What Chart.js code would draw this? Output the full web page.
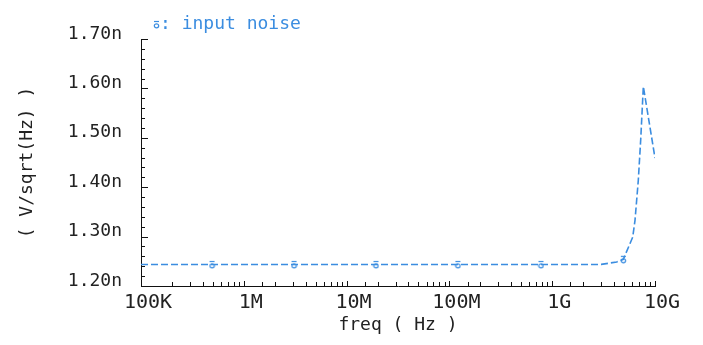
<!DOCTYPE html>
<html>
<head>
<meta charset="utf-8">
<script src="https://cdn.jsdelivr.net/npm/chart.js@4/dist/chart.umd.min.js"></script>
<style>
  html, body { margin: 0; padding: 0; background: #fff; }
  #wrap { width: 703px; height: 345px; }
</style>
</head>
<body>
<div id="wrap"><canvas id="noiseChart"></canvas></div>
<script>
// frequency sweep (Hz) and input-referred noise (nV/sqrt(Hz))
const freqs = [1e5, 1e6, 1e7, 1e8, 1e9, 2e9, 3e9, 4.24e9, 4.92e9, 6.07e9, 6.39e9, 6.88e9, 7.26e9, 7.7e9, 1e10];
const noise = [1.2434, 1.2434, 1.2434, 1.2434, 1.2434, 1.2435, 1.2437, 1.2487, 1.254, 1.299, 1.333, 1.414, 1.496, 1.604, 1.459];

// marker symbols placed along the trace
const markerFreqs = [4.91e5, 3.08e6, 1.93e7, 1.21e8, 7.78e8, 4.92e9];
const markerNoise = [1.2434, 1.2434, 1.2434, 1.2434, 1.2434, 1.254];

const xTickNames = { 5: '100K', 6: '1M', 7: '10M', 8: '100M', 9: '1G', 10: '10G' };
const yMin = 1.20, yMax = 1.70, yStep = 0.02;

const blue = '#3b8de0';
const font = 'DejaVu Sans Mono';

// small "a"-like marker glyph used by the simulator
function makeMarker() {
    const c = document.createElement('canvas');
    c.width = 7; c.height = 9;
    const g = c.getContext('2d');
    g.strokeStyle = blue;
    g.lineWidth = 1.2;
    g.beginPath();
    g.moveTo(1, 1.5); g.lineTo(6, 1.5);
    g.stroke();
    g.beginPath();
    g.ellipse(3.5, 5.8, 2.2, 2, 0, 0, Math.PI * 2);
    g.stroke();
    return c;
}
const markerImg = makeMarker();

const isDecade = v => Math.abs(Math.log10(v) - Math.round(Math.log10(v))) < 1e-6;
const isMajorY = v => Math.abs(v * 10 - Math.round(v * 10)) < 1e-6;

// ticks drawn inward from the axis lines
const innerTicks = {
    id: 'innerTicks',
    afterDraw(chart) {
        const { ctx, chartArea, scales } = chart;
        ctx.save();
        ctx.strokeStyle = '#111';
        ctx.lineWidth = 1;
        scales.x.ticks.forEach(t => {
            const px = Math.round(scales.x.getPixelForValue(t.value)) + 0.5;
            const len = isDecade(t.value) ? 5 : 4;
            ctx.beginPath();
            ctx.moveTo(px, chartArea.bottom);
            ctx.lineTo(px, chartArea.bottom - len);
            ctx.stroke();
        });
        scales.y.ticks.forEach(t => {
            const py = Math.round(scales.y.getPixelForValue(t.value)) + 0.5;
            const len = isMajorY(t.value) ? 7 : 4;
            ctx.beginPath();
            ctx.moveTo(chartArea.left, py);
            ctx.lineTo(chartArea.left + len, py);
            ctx.stroke();
        });
        ctx.restore();
    }
};

// legend line: marker + ": input noise"
const traceLegend = {
    id: 'traceLegend',
    afterDraw(chart) {
        const { ctx, chartArea } = chart;
        const x = chartArea.left + 12;
        const y = 24;
        ctx.save();
        ctx.drawImage(markerImg, x, y - 4);
        ctx.fillStyle = blue;
        ctx.font = '18px "' + font + '"';
        ctx.textBaseline = 'middle';
        ctx.fillText(': input noise', x + 7, y);
        ctx.restore();
    }
};

new Chart(document.getElementById('noiseChart'), {
    type: 'line',
    data: {
        datasets: [{
            label: 'input noise',
            data: freqs.map((f, i) => ({ x: f, y: noise[i] })),
            borderColor: blue,
            borderWidth: 1.6,
            borderDash: [7, 3],
            pointRadius: 0,
            tension: 0,
            fill: false
        }, {
            label: 'markers',
            data: markerFreqs.map((f, i) => ({ x: f, y: markerNoise[i] })),
            showLine: false,
            pointStyle: markerImg,
            pointRadius: 4
        }]
    },
    options: {
        responsive: true,
        maintainAspectRatio: false,
        animation: false,
        layout: { padding: { top: 39, right: 48, left: 0, bottom: 0 } },
        plugins: {
            legend: { display: false },
            tooltip: { enabled: false }
        },
        scales: {
            x: {
                type: 'logarithmic',
                min: 1e5,
                max: 1e10,
                grid: { display: false, drawTicks: false },
                border: { display: true, color: '#111', width: 1 },
                ticks: {
                    autoSkip: false,
                    maxRotation: 0,
                    padding: 5,
                    labelOffset: 7,
                    color: '#222',
                    font: { family: font, size: 20 },
                    callback: v => isDecade(v) ? (xTickNames[Math.round(Math.log10(v))] || '') : ''
                },
                title: {
                    display: true,
                    text: 'freq ( Hz )',
                    color: '#222',
                    font: { family: font, size: 18 },
                    padding: { top: 0, bottom: 9 }
                },
                afterFit: s => { s.height = 59; }
            },
            y: {
                min: yMin,
                max: yMax,
                grid: { display: false, drawTicks: false },
                border: { display: true, color: '#111', width: 1 },
                ticks: {
                    stepSize: yStep,
                    autoSkip: false,
                    padding: 19,
                    labelOffset: -5,
                    color: '#222',
                    font: { family: font, size: 18 },
                    callback: v => isMajorY(v) ? v.toFixed(2) + 'n' : ''
                },
                title: {
                    display: true,
                    text: '( V/sqrt(Hz) )',
                    color: '#222',
                    font: { family: font, size: 18 },
                    padding: { top: 17, bottom: 0 }
                },
                afterFit: s => { s.width = 141; }
            }
        }
    },
    plugins: [innerTicks, traceLegend]
});
</script>
</body>
</html>
